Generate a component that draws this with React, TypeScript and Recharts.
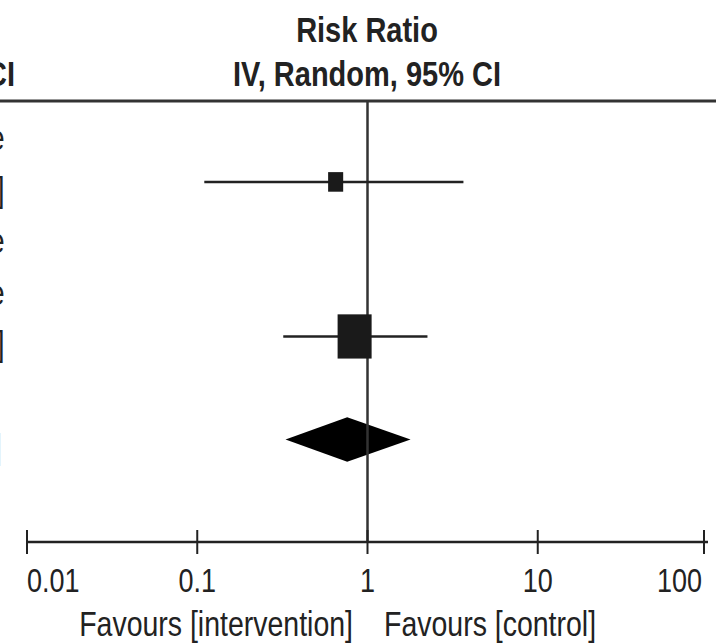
import React from 'react';
import { ComposedChart, Scatter, Area, XAxis, YAxis, ErrorBar, ReferenceLine } from 'recharts';

// studies, one row each (null = not estimable)
const STUDY_ROWS = [0, 1, 2, 3, 4];
const RR = [null, 0.65, null, null, 0.84];
const LOWER = [null, 0.11, null, null, 0.32];
const UPPER = [null, 3.66, null, null, 2.25];
const WEIGHT = [null, 16.4, null, null, 83.6];

// pooled estimate
const TOTAL_ROW = 6;
const TOTAL_RR = 0.76;
const TOTAL_CI = [0.33, 1.79];

const X_TICKS = [0.01, 0.1, 1, 10, 100];

const W = 716;
const H = 643;
const FONT = "'Liberation Sans', Arial, Helvetica, sans-serif";
const SY = 1.22; // the source picture is stretched vertically
const INK = '#222';
const SQUARE_K = 3.72;
const DIAMOND_HALF = 0.43;

const fmt = (v: number) => v.toFixed(2);

const studyData = STUDY_ROWS.filter((i) => RR[i] != null).map((i) => ({
  x: RR[i] as number,
  y: i,
  w: WEIGHT[i] as number,
  err: [(RR[i] as number) - (LOWER[i] as number), (UPPER[i] as number) - (RR[i] as number)],
}));

const diamondData = [
  { x: TOTAL_CI[0], band: [TOTAL_ROW, TOTAL_ROW] },
  { x: TOTAL_RR, band: [TOTAL_ROW - DIAMOND_HALF, TOTAL_ROW + DIAMOND_HALF] },
  { x: TOTAL_CI[1], band: [TOTAL_ROW, TOTAL_ROW] },
];

function rowLabel(i: number) {
  if (i === TOTAL_ROW) return `${fmt(TOTAL_RR)} [${fmt(TOTAL_CI[0])}, ${fmt(TOTAL_CI[1])}]`;
  if (RR[i] == null) return 'Not estimable';
  return `${fmt(RR[i] as number)} [${fmt(LOWER[i] as number)}, ${fmt(UPPER[i] as number)}]`;
}

function Txt({ x, y, anchor = 'middle', size = 28, bold = false, fill = INK, children }: any) {
  return (
    <text
      transform={`translate(${x},${y}) scale(1,${SY})`}
      textAnchor={anchor}
      fontSize={size}
      fontWeight={bold ? 700 : 400}
      fontFamily={FONT}
      fill={fill}
    >
      {children}
    </text>
  );
}

function XTick({ x, y, payload, index }: any) {
  const last = index === X_TICKS.length - 1;
  const anchor = index === 0 ? 'start' : last ? 'end' : 'middle';
  return (
    <g>
      <line x1={x} x2={x} y1={y - 12} y2={y + 12} stroke={INK} strokeWidth={2} />
      <Txt x={last ? x - 2 : x} y={y + 50} anchor={anchor} size={27}>
        {String(payload.value)}
      </Txt>
    </g>
  );
}

// left table column, mostly cut off by the picture's edge
function LeftTick({ y, payload }: any) {
  const i = payload.value;
  const total = i === TOTAL_ROW;
  return (
    <Txt x={total ? 2 : 4.5} y={y + 20} anchor="end" fill={total ? '#bbb' : INK}>
      {rowLabel(i)}
    </Txt>
  );
}

function Box({ cx, cy, payload }: any) {
  const w = SQUARE_K * Math.sqrt(payload.w);
  const h = w * 1.3;
  return <rect x={cx - w / 2} y={cy - h / 2} width={w} height={h} fill="#1a1a1a" />;
}

export default function App() {
  return (
    <div style={{ position: 'absolute', left: 0, top: 0, background: '#fff' }}>
      <ComposedChart width={W} height={H} margin={{ top: 100, right: 8, bottom: 41, left: 26 }}>
        <XAxis
          dataKey="x"
          type="number"
          scale="log"
          domain={[0.01, 100]}
          ticks={X_TICKS}
          allowDataOverflow
          height={60}
          tickSize={0}
          tickMargin={0}
          tickLine={false}
          axisLine={{ stroke: INK, strokeWidth: 2.5 }}
          tick={<XTick />}
        />
        <YAxis
          dataKey="y"
          type="number"
          domain={[-0.59, 7.99]}
          reversed
          allowDataOverflow
          width={1}
          ticks={[...STUDY_ROWS, TOTAL_ROW]}
          interval={0}
          axisLine={false}
          tickLine={false}
          tickSize={0}
          tick={<LeftTick />}
        />
        <ReferenceLine x={1} stroke="#333" strokeWidth={2.5} />
        <Area
          data={diamondData}
          dataKey="band"
          type="linear"
          stroke="none"
          fill="#000"
          fillOpacity={1}
          isAnimationActive={false}
        />
        <Scatter data={studyData} shape={<Box />} isAnimationActive={false}>
          <ErrorBar dataKey="err" direction="x" width={0} stroke={INK} strokeWidth={2.5} />
        </Scatter>
        <line x1={0} x2={W} y1={101} y2={101} stroke="#333" strokeWidth={3} />
        <Txt x={367} y={42} bold size={29}>Risk Ratio</Txt>
        <Txt x={367} y={86} bold size={29}>IV, Random, 95% CI</Txt>
        <Txt x={15} y={86} anchor="end" bold size={29}>IV, Random, 95% CI</Txt>
        <Txt x={353} y={636} anchor="end" size={28.5}>Favours [intervention]</Txt>
        <Txt x={384} y={636} anchor="start" size={28.5}>Favours [control]</Txt>
      </ComposedChart>
    </div>
  );
}
